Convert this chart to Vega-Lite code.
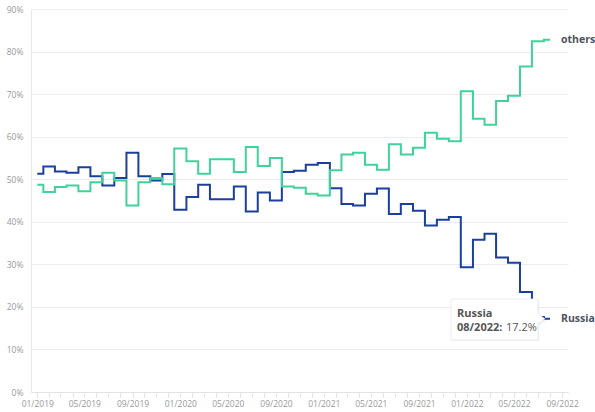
{
  "$schema": "https://vega.github.io/schema/vega-lite/v6.json",
  "width": 537,
  "height": 383,
  "autosize": {"type": "none"},
  "padding": {"left": 31, "top": 9, "right": 27, "bottom": 20},
  "background": "white",
  "config": {
    "font": "Open Sans",
    "view": {"stroke": null},
    "axis": {"labelFont": "Open Sans", "labelColor": "#999999", "labelFontSize": 8.5}
  },
  "datasets": {
    "shares": [
      {"date": "2019-01-01", "country": "Russia", "share": 0.513}, {"date": "2019-01-01", "country": "others", "share": 0.487},
      {"date": "2019-02-01", "country": "Russia", "share": 0.530}, {"date": "2019-02-01", "country": "others", "share": 0.470},
      {"date": "2019-03-01", "country": "Russia", "share": 0.518}, {"date": "2019-03-01", "country": "others", "share": 0.482},
      {"date": "2019-04-01", "country": "Russia", "share": 0.515}, {"date": "2019-04-01", "country": "others", "share": 0.485},
      {"date": "2019-05-01", "country": "Russia", "share": 0.528}, {"date": "2019-05-01", "country": "others", "share": 0.472},
      {"date": "2019-06-01", "country": "Russia", "share": 0.507}, {"date": "2019-06-01", "country": "others", "share": 0.493},
      {"date": "2019-07-01", "country": "Russia", "share": 0.485}, {"date": "2019-07-01", "country": "others", "share": 0.515},
      {"date": "2019-08-01", "country": "Russia", "share": 0.503}, {"date": "2019-08-01", "country": "others", "share": 0.497},
      {"date": "2019-09-01", "country": "Russia", "share": 0.562}, {"date": "2019-09-01", "country": "others", "share": 0.438},
      {"date": "2019-10-01", "country": "Russia", "share": 0.507}, {"date": "2019-10-01", "country": "others", "share": 0.493},
      {"date": "2019-11-01", "country": "Russia", "share": 0.497}, {"date": "2019-11-01", "country": "others", "share": 0.503},
      {"date": "2019-12-01", "country": "Russia", "share": 0.512}, {"date": "2019-12-01", "country": "others", "share": 0.488},
      {"date": "2020-01-01", "country": "Russia", "share": 0.428}, {"date": "2020-01-01", "country": "others", "share": 0.572},
      {"date": "2020-02-01", "country": "Russia", "share": 0.458}, {"date": "2020-02-01", "country": "others", "share": 0.542},
      {"date": "2020-03-01", "country": "Russia", "share": 0.487}, {"date": "2020-03-01", "country": "others", "share": 0.513},
      {"date": "2020-04-01", "country": "Russia", "share": 0.453}, {"date": "2020-04-01", "country": "others", "share": 0.547},
      {"date": "2020-05-01", "country": "Russia", "share": 0.453}, {"date": "2020-05-01", "country": "others", "share": 0.547},
      {"date": "2020-06-01", "country": "Russia", "share": 0.483}, {"date": "2020-06-01", "country": "others", "share": 0.517},
      {"date": "2020-07-01", "country": "Russia", "share": 0.424}, {"date": "2020-07-01", "country": "others", "share": 0.576},
      {"date": "2020-08-01", "country": "Russia", "share": 0.469}, {"date": "2020-08-01", "country": "others", "share": 0.531},
      {"date": "2020-09-01", "country": "Russia", "share": 0.450}, {"date": "2020-09-01", "country": "others", "share": 0.550},
      {"date": "2020-10-01", "country": "Russia", "share": 0.517}, {"date": "2020-10-01", "country": "others", "share": 0.483},
      {"date": "2020-11-01", "country": "Russia", "share": 0.520}, {"date": "2020-11-01", "country": "others", "share": 0.480},
      {"date": "2020-12-01", "country": "Russia", "share": 0.534}, {"date": "2020-12-01", "country": "others", "share": 0.466},
      {"date": "2021-01-01", "country": "Russia", "share": 0.538}, {"date": "2021-01-01", "country": "others", "share": 0.462},
      {"date": "2021-02-01", "country": "Russia", "share": 0.479}, {"date": "2021-02-01", "country": "others", "share": 0.521},
      {"date": "2021-03-01", "country": "Russia", "share": 0.442}, {"date": "2021-03-01", "country": "others", "share": 0.558},
      {"date": "2021-04-01", "country": "Russia", "share": 0.438}, {"date": "2021-04-01", "country": "others", "share": 0.562},
      {"date": "2021-05-01", "country": "Russia", "share": 0.466}, {"date": "2021-05-01", "country": "others", "share": 0.534},
      {"date": "2021-06-01", "country": "Russia", "share": 0.478}, {"date": "2021-06-01", "country": "others", "share": 0.522},
      {"date": "2021-07-01", "country": "Russia", "share": 0.418}, {"date": "2021-07-01", "country": "others", "share": 0.582},
      {"date": "2021-08-01", "country": "Russia", "share": 0.442}, {"date": "2021-08-01", "country": "others", "share": 0.558},
      {"date": "2021-09-01", "country": "Russia", "share": 0.426}, {"date": "2021-09-01", "country": "others", "share": 0.574},
      {"date": "2021-10-01", "country": "Russia", "share": 0.391}, {"date": "2021-10-01", "country": "others", "share": 0.609},
      {"date": "2021-11-01", "country": "Russia", "share": 0.405}, {"date": "2021-11-01", "country": "others", "share": 0.595},
      {"date": "2021-12-01", "country": "Russia", "share": 0.411}, {"date": "2021-12-01", "country": "others", "share": 0.589},
      {"date": "2022-01-01", "country": "Russia", "share": 0.293}, {"date": "2022-01-01", "country": "others", "share": 0.707},
      {"date": "2022-02-01", "country": "Russia", "share": 0.358}, {"date": "2022-02-01", "country": "others", "share": 0.642},
      {"date": "2022-03-01", "country": "Russia", "share": 0.372}, {"date": "2022-03-01", "country": "others", "share": 0.628},
      {"date": "2022-04-01", "country": "Russia", "share": 0.316}, {"date": "2022-04-01", "country": "others", "share": 0.684},
      {"date": "2022-05-01", "country": "Russia", "share": 0.304}, {"date": "2022-05-01", "country": "others", "share": 0.696},
      {"date": "2022-06-01", "country": "Russia", "share": 0.235}, {"date": "2022-06-01", "country": "others", "share": 0.765},
      {"date": "2022-07-01", "country": "Russia", "share": 0.176}, {"date": "2022-07-01", "country": "others", "share": 0.824},
      {"date": "2022-08-01", "country": "Russia", "share": 0.172}, {"date": "2022-08-01", "country": "others", "share": 0.828}
    ]
  },
  "data": {"name": "shares"},
  "encoding": {
    "x": {
      "field": "date",
      "type": "temporal",
      "scale": {
        "type": "utc",
        "nice": false,
        "domain": [
          {"year": 2018, "month": 12, "date": 16, "utc": true},
          {"year": 2022, "month": 9, "date": 16, "utc": true}
        ]
      },
      "axis": {
        "title": null,
        "grid": false,
        "tickCount": {"interval": "month", "step": 1},
        "labelExpr": "utcmonth(datum.value) % 4 == 0 ? utcFormat(datum.value, '%m/%Y') : ''",
        "labelOverlap": false,
        "labelFlush": false,
        "labelPadding": 2,
        "ticks": true,
        "tickSize": 5,
        "tickColor": "#e3e3e3",
        "domainColor": "#e3e3e3"
      }
    },
    "y": {
      "field": "share",
      "type": "quantitative",
      "scale": {"domain": [0, 0.9], "nice": false, "zero": true},
      "axis": {
        "title": null,
        "values": [0, 0.1, 0.2, 0.3, 0.4, 0.5, 0.6, 0.7, 0.8, 0.9],
        "format": ".0%",
        "ticks": false,
        "labelPadding": 8,
        "gridColor": "#ececec",
        "domainColor": "#e8e8e8"
      }
    }
  },
  "layer": [
    {
      "mark": {"type": "line", "interpolate": "step", "strokeWidth": 2},
      "encoding": {
        "color": {
          "field": "country",
          "type": "nominal",
          "scale": {"domain": ["others", "Russia"], "range": ["#3fd39b", "#1c3f9e"]},
          "legend": null
        },
        "order": {"field": "date", "type": "temporal"}
      }
    },
    {
      "transform": [{"filter": "utcyear(datum.date) == 2022 && utcmonth(datum.date) == 7"}],
      "mark": {"type": "text", "align": "left", "baseline": "middle", "dx": 11, "fontSize": 10.5, "fontWeight": "bold", "color": "#4d5360"},
      "encoding": {"text": {"field": "country"}}
    },
    {
      "transform": [{"filter": "utcyear(datum.date) == 2022 && utcmonth(datum.date) == 7 && datum.country == 'Russia'"}],
      "mark": {
        "type": "point",
        "shape": "M-2.25,-0.43H-0.25V-0.09L-0.09,0.03L-0.25,0.15V0.51H-2.25Z",
        "size": 7569,
        "filled": true,
        "fill": "#000000",
        "fillOpacity": 0.06,
        "strokeWidth": 0,
        "opacity": 1
      },
      "encoding": {}
    },
    {
      "transform": [{"filter": "utcyear(datum.date) == 2022 && utcmonth(datum.date) == 7 && datum.country == 'Russia'"}],
      "mark": {
        "type": "point",
        "shape": "M-2.276,-0.457H-0.276V-0.115L-0.115,0L-0.276,0.115V0.485H-2.276Z",
        "size": 7569,
        "filled": true,
        "fill": "white",
        "stroke": "#e2e2e2",
        "strokeWidth": 0.6,
        "opacity": 1
      },
      "encoding": {}
    },
    {
      "transform": [{"filter": "utcyear(datum.date) == 2022 && utcmonth(datum.date) == 7 && datum.country == 'Russia'"}],
      "mark": {"type": "text", "align": "left", "baseline": "alphabetic", "dx": -93, "dy": -2, "fontSize": 11, "fontWeight": "bold", "color": "#555555"},
      "encoding": {"text": {"field": "country"}}
    },
    {
      "transform": [{"filter": "utcyear(datum.date) == 2022 && utcmonth(datum.date) == 7 && datum.country == 'Russia'"}],
      "mark": {"type": "text", "align": "left", "baseline": "alphabetic", "dx": -93, "dy": 12, "fontSize": 11, "fontWeight": "bold", "color": "#555555"},
      "encoding": {"text": {"field": "date", "type": "temporal", "timeUnit": "utcyearmonth", "format": "%m/%Y:"}}
    },
    {
      "transform": [{"filter": "utcyear(datum.date) == 2022 && utcmonth(datum.date) == 7 && datum.country == 'Russia'"}],
      "mark": {"type": "text", "align": "left", "baseline": "alphabetic", "dx": -44, "dy": 12, "fontSize": 11, "color": "#555555"},
      "encoding": {"text": {"field": "share", "type": "quantitative", "format": ".1%"}}
    }
  ]
}
